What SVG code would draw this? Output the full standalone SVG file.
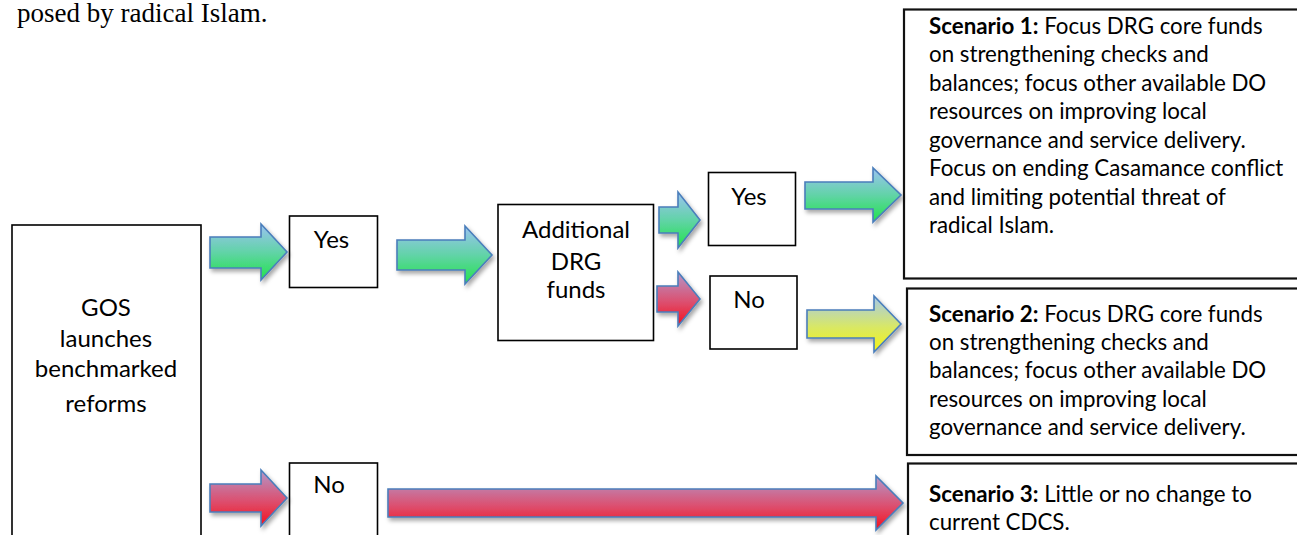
<svg xmlns="http://www.w3.org/2000/svg" width="1297" height="535" viewBox="0 0 1297 535">
<defs>
<linearGradient id="gBG" x1="0" y1="0" x2="0" y2="1"><stop offset="0" stop-color="#9cc3f2"/><stop offset="0.5" stop-color="#62d3a8"/><stop offset="1" stop-color="#22e34a"/></linearGradient>
<linearGradient id="gR" x1="0" y1="0" x2="0" y2="1"><stop offset="0" stop-color="#b397c9"/><stop offset="0.55" stop-color="#dc5070"/><stop offset="1" stop-color="#f5101c"/></linearGradient>
<linearGradient id="gY" x1="0" y1="0" x2="0" y2="1"><stop offset="0" stop-color="#a6c8ec"/><stop offset="0.55" stop-color="#d8e866"/><stop offset="1" stop-color="#f6f412"/></linearGradient>
<filter id="sh" x="-10%" y="-20%" width="130%" height="150%"><feDropShadow dx="2" dy="3" stdDeviation="2" flood-color="#000" flood-opacity="0.35"/></filter>
<style>
.box{fill:#fff;stroke:#000;stroke-width:1.6}
.sbox{fill:#fff;stroke:#111;stroke-width:2.2}
.arr{stroke:#4a7ebb;stroke-width:1.6;stroke-linejoin:miter;filter:url(#sh)}
.n{font-family:Lato,"Open Sans",sans-serif;font-size:24px;fill:#000;text-anchor:middle}
.s{font-family:Lato,"Open Sans",sans-serif;font-size:22.3px;fill:#000}
.b{font-weight:bold}
.serif{font-family:"Liberation Serif",serif;font-size:27px;fill:#000}
</style>
</defs>
<text class="serif" x="17" y="22">posed by radical Islam.</text>

<g id="nodes">
<g id="gos"><rect class="box" x="12" y="225" width="189" height="320"/>
<text class="n"><tspan x="106" y="316">GOS</tspan><tspan x="106" y="347">launches</tspan><tspan x="106" y="377">benchmarked</tspan><tspan x="106" y="412">reforms</tspan></text></g>
<g id="yes1"><rect class="box" x="289.5" y="216" width="88" height="71.5"/><text class="n" x="331.5" y="248">Yes</text></g>
<g id="no1"><rect class="box" x="289.5" y="463" width="88" height="80"/><text class="n" x="329" y="493">No</text></g>
<g id="additional"><rect class="box" x="498" y="204.5" width="155.5" height="136"/>
<text class="n"><tspan x="576" y="238">Additional</tspan><tspan x="576" y="270">DRG</tspan><tspan x="576" y="298">funds</tspan></text></g>
<g id="yes2"><rect class="box" x="708.5" y="172.5" width="87" height="73"/><text class="n" x="749" y="205">Yes</text></g>
<g id="no2"><rect class="box" x="710" y="276" width="87" height="73"/><text class="n" x="749" y="308">No</text></g>
<g id="scenario1"><rect class="sbox" x="904" y="9.5" width="400" height="269"/>
<text class="s"><tspan x="929" y="33.5"><tspan class="b">Scenario 1:</tspan> Focus DRG core funds</tspan><tspan x="929" y="62">on strengthening checks and</tspan><tspan x="929" y="90.5">balances; focus other available DO</tspan><tspan x="929" y="119">resources on improving local</tspan><tspan x="929" y="147.5">governance and service delivery.</tspan><tspan x="929" y="176">Focus on ending Casamance conflict</tspan><tspan x="929" y="204.5">and limiting potential threat of</tspan><tspan x="929" y="233">radical Islam.</tspan></text></g>
<g id="scenario2"><rect class="sbox" x="907" y="288.5" width="400" height="166.5"/>
<text class="s"><tspan x="929" y="321.5"><tspan class="b">Scenario 2:</tspan> Focus DRG core funds</tspan><tspan x="929" y="350">on strengthening checks and</tspan><tspan x="929" y="378">balances; focus other available DO</tspan><tspan x="929" y="406.5">resources on improving local</tspan><tspan x="929" y="435">governance and service delivery.</tspan></text></g>
<g id="scenario3"><rect class="sbox" x="908" y="463.5" width="400" height="80"/>
<text class="s"><tspan x="929" y="501.5"><tspan class="b">Scenario 3:</tspan> Little or no change to</tspan><tspan x="929" y="530">current CDCS.</tspan></text></g>
</g>

<g id="connectors">
<polygon class="arr" fill="url(#gBG)" points="210,237 261,237 261,224 287,252 261,280 261,268 210,268"/>
<polygon class="arr" fill="url(#gR)" points="210,484 261,484 261,470 287,498 261,526 261,512 210,512"/>
<polygon class="arr" fill="url(#gBG)" points="397,240 465,240 465,226 492,255 465,284 465,270 397,270"/>
<polygon class="arr" fill="url(#gBG)" points="659,207 678,207 678,192 700,220 678,248 678,233 659,233"/>
<polygon class="arr" fill="url(#gR)" points="657,286 678,286 678,272 700,299 678,326 678,312 657,312"/>
<polygon class="arr" fill="url(#gBG)" points="805,182 873,182 873,168 901,195 873,222 873,209 805,209"/>
<polygon class="arr" fill="url(#gY)" points="807,310 874,310 874,296 901,324 874,352 874,338 807,338"/>
<polygon class="arr" fill="url(#gR)" points="388,489 876,489 876,476 903,503 876,530 876,517 388,517"/>
</g>
</svg>
